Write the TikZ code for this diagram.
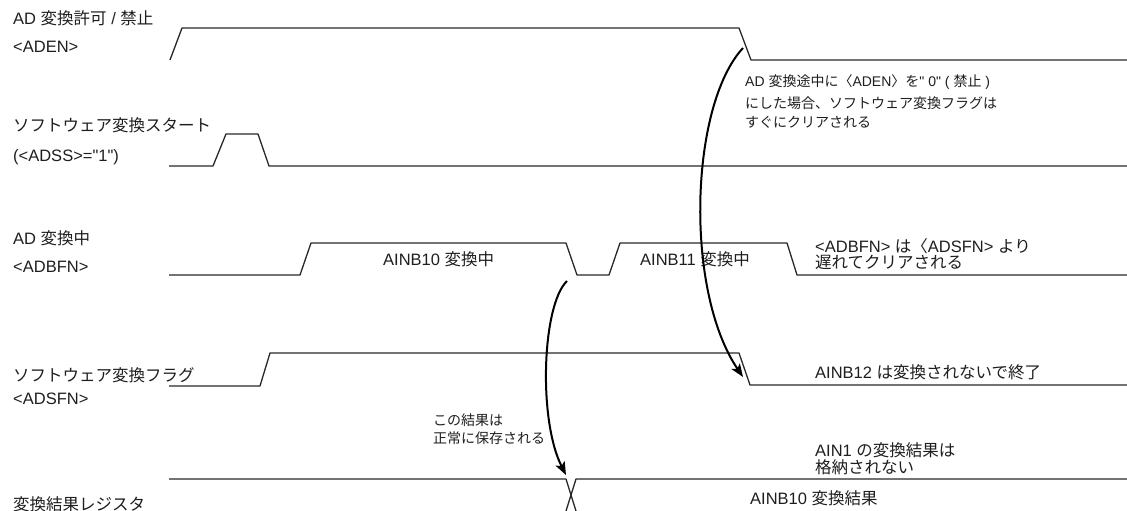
\documentclass[tikz,border=0pt]{standalone}
\usepackage{fontspec}
\setmainfont{Liberation Sans}[Ligatures=TeXOff]
\newfontfamily\jp{Noto Sans CJK JP}
\newcommand{\jj}[1]{{\jp #1}}
\usetikzlibrary{arrows.meta}
\definecolor{sig}{RGB}{40,40,40}
\definecolor{txt}{RGB}{30,30,30}
\begin{document}
\begin{tikzpicture}[x=1pt,y=-1pt,
  wave/.style={draw=sig,line width=1.3pt,line join=round},
  arr/.style={draw=black,line width=2pt,-{Stealth[length=13pt,width=10pt,inset=3pt]}},
  lbl/.style={anchor=base west,inner sep=0pt,text=txt,font=\fontsize{16.5}{18}\selectfont},
  sml/.style={anchor=base west,inner sep=0pt,text=txt,font=\fontsize{14}{16}\selectfont}]
\useasboundingbox (0,0) rectangle (1127,511);
% signal labels
\node[lbl] (l1) at (13,25) {AD \jj{変換許可} / \jj{禁止}};
\node[lbl] (l2) at (13,53) {<ADEN>};
\node[lbl] (l3) at (13,131) {\jj{ソフトウェア変換スタート}};
\node[lbl] (l4) at (13,161) {(<ADSS>="1")};
\node[lbl] (l5) at (13,244) {AD \jj{変換中}};
\node[lbl] (l6) at (13,272) {<ADBFN>};
\node[lbl] (l7) at (13,381) {\jj{ソフトウェア変換フラグ}};
\node[lbl] (l8) at (13,404) {<ADSFN>};
\node[lbl] (l9) at (13,510) {\jj{変換結果レジスタ}};
% waveforms
\draw[wave] (170,60) -- (182,28) -- (739,28) -- (751,60) -- (1127,60);
\draw[wave] (169,166) -- (213,166) -- (226,134) -- (258,134) -- (269,166) -- (1127,166);
\draw[wave] (169,275) -- (300,275) -- (311,243) -- (566,243) -- (577,275) -- (609,275) -- (620,243) -- (787,243) -- (797,275) -- (1127,275);
\draw[wave] (169,386) -- (260,386) -- (270,353) -- (739,353) -- (750,385) -- (1127,385);
\draw[wave] (169,479) -- (566,479) -- (576,511);
\draw[wave] (566,511) -- (576,479) -- (1127,479);
% texts in waveforms
\node[lbl] (t1) at (383,265) {AINB10 \jj{変換中}};
\node[lbl] (t2) at (640,265) {AINB11 \jj{変換中}};
\node[lbl] (t3) at (815,252) {<ADBFN> \jj{は}\jj{〈}ADSFN> \jj{より}};
\node[lbl] (t4) at (815,268) {\jj{遅れてクリアされる}};
\node[lbl] (t5) at (815,378) {AINB12 \jj{は変換されないで終了}};
\node[lbl] (t6) at (815,456) {AIN1 \jj{の変換結果は}};
\node[lbl] (t7) at (815,473) {\jj{格納されない}};
\node[lbl] (t8) at (750,504) {AINB10 \jj{変換結果}};
% small notes
\node[sml] (n1) at (745,87) {AD \jj{変換途中に}\jj{〈}ADEN\jj{〉}\jj{を}" 0" ( \jj{禁止} )};
\node[sml] (n2) at (745,108) {\jj{にした場合、ソフトウェア変換フラグは}};
\node[sml] (n3) at (745,127) {\jj{すぐにクリアされる}};
\node[sml] (n4) at (433,425) {\jj{この結果は}};
\node[sml] (n5) at (433,443) {\jj{正常に保存される}};
% arrows
\coordinate (a1s) at (743,48);
\coordinate (a1e) at (743,377);
\coordinate (a2s) at (567,281);
\coordinate (a2e) at (566,475);
\draw[arr] (a1s) .. controls (690,105) and (684,290) .. (a1e);
\draw[arr] (a2s) .. controls (542,305) and (538,420) .. (a2e);
\end{tikzpicture}
\end{document}
